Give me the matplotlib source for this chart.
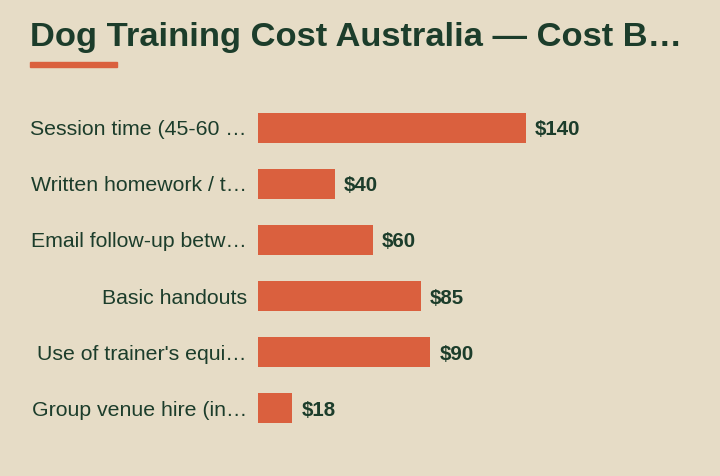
import matplotlib.pyplot as plt
from matplotlib.patches import Rectangle

# Data
labels = [
    "Session time (45-60 \u2026",
    "Written homework / t\u2026",
    "Email follow-up betw\u2026",
    "Basic handouts",
    "Use of trainer's equi\u2026",
    "Group venue hire (in\u2026",
]
costs = [140, 40, 60, 85, 90, 18]
title = "Dog Training Cost Australia \u2014 Cost B\u2026"

bg = '#e6dcc6'
orange = '#da603e'
dark = '#1c3d2b'

plt.rcParams['font.family'] = ['Liberation Sans', 'DejaVu Sans']

W, H = 720, 476
fig = plt.figure(figsize=(W / 100, H / 100), dpi=100, facecolor=bg)

# axes placed in pixel terms: bars start at x=258, rows from y=100 to 436
ax = fig.add_axes([258 / W, (H - 436) / H, (700 - 258) / W, 336 / H])
ax.set_facecolor(bg)
ax.set_xlim(0, 442 / (268 / 140))
ax.set_ylim(len(costs) - 0.5, -0.5)

ypos = list(range(len(costs)))
ax.barh(ypos, costs, height=30 / 56, color=orange)

for y, v in zip(ypos, costs):
    ax.annotate(f"${v}", xy=(v, y), xytext=(9, 0), textcoords='offset pixels',
                ha='left', va='center_baseline', fontsize=14.8,
                fontweight='bold', color=dark)

ax.set_yticks(ypos)
ax.set_yticklabels(labels, fontsize=15.3, color=dark)
ax.tick_params(axis='y', length=0, pad=8)
ax.set_xticks([])
for s in ax.spines.values():
    s.set_visible(False)

# title and accent underline
fig.text(30 / W, 1 - 38 / H, title, ha='left', va='center', fontsize=24.8,
         fontweight='bold', color=dark)
fig.patches.append(Rectangle((30 / W, 1 - 66.5 / H), 87 / W, 4.5 / H,
                             transform=fig.transFigure, color=orange))

fig.savefig('out.png', dpi=100, facecolor=bg)
